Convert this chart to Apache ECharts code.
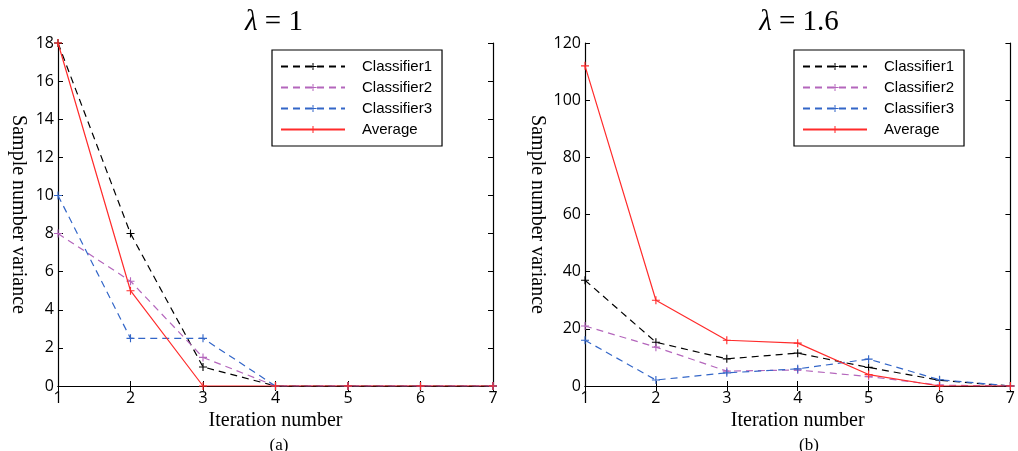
<!DOCTYPE html>
<html>
  <head>
    <meta http-equiv="Content-Type" content="text/html; charset=utf-8" />
    <script src="https://cdn.jsdelivr.net/npm/echarts@6/dist/echarts.min.js"></script>
    <style>html,body{margin:0;padding:0;background:#fff;}</style>
  </head>
  <body>
    <div id="main" style="width: 1018px;height:451px;"></div>
    <script type="text/javascript">
// iteration numbers on the x axis
var iterations = ['1', '2', '3', '4', '5', '6', '7'];
var names = ['Classifier1', 'Classifier2', 'Classifier3', 'Average'];

// (a) lambda = 1
var a_c1 = [18, 8, 1, 0, 0, 0, 0];
var a_c2 = [8, 5.5, 1.5, 0, 0, 0, 0];
var a_c3 = [10, 2.5, 2.5, 0, 0, 0, 0];
var a_avg = [18, 5, 0, 0, 0, 0, 0];

// (b) lambda = 1.6
var b_c1 = [37, 15.3, 9.5, 11.5, 6.5, 2, 0];
var b_c2 = [21, 13.6, 5.2, 5.6, 3.3, 0.3, 0];
var b_c3 = [16, 2.1, 4.6, 6, 9.4, 2.2, 0];
var b_avg = [112, 30, 16, 15, 4, 0, 0];

var colors = ['#000000', '#b466bc', '#3366c8', '#ff2b2b'];
var plus = 'path://M4.3,0H5.7V4.3H10V5.7H5.7V10H4.3V5.7H0V4.3H4.3Z';
var serif = "'Liberation Serif', 'DejaVu Serif', serif";
var sans = "'Open Sans', sans-serif";

var myChart = echarts.init(document.getElementById('main'));

function mkSeries(name, data, i, axis) {
    return {
        name: name,
        type: 'line',
        data: data,
        xAxisIndex: axis * 2,
        yAxisIndex: axis * 2,
        symbol: plus,
        symbolSize: 8,
        showSymbol: true,
        animation: false,
        itemStyle: {color: colors[i], borderWidth: 0},
        lineStyle: {color: colors[i], width: 1.2, type: i == 3 ? 'solid' : [7, 5]},
        z: i == 3 ? 5 : 3
    };
}

function xAxes(grid) {
    return [
        {
            type: 'category', gridIndex: grid, data: iterations, boundaryGap: false,
            axisLine: {lineStyle: {color: '#000', width: 1.2}},
            axisTick: {inside: true, length: 5, lineStyle: {color: '#000'}},
            axisLabel: {color: '#000', fontSize: 16, fontFamily: sans, margin: 4},
            splitLine: {show: false},
            name: 'Iteration number', nameLocation: 'middle', nameGap: 24,
            nameTextStyle: {fontFamily: serif, fontSize: 20, color: '#000'}
        },
        {
            type: 'category', gridIndex: grid, data: iterations, boundaryGap: false, position: 'top',
            axisLine: {lineStyle: {color: '#000', width: 1.2}},
            axisTick: {inside: true, length: 5, lineStyle: {color: '#000'}},
            axisLabel: {show: false},
            splitLine: {show: false}
        }
    ];
}

function yAxes(grid, max, step, gap) {
    return [
        {
            type: 'value', gridIndex: grid, min: 0, max: max, interval: step,
            axisLine: {show: true, lineStyle: {color: '#000', width: 1.2}},
            axisTick: {show: true, inside: true, length: 5, lineStyle: {color: '#000'}},
            axisLabel: {color: '#000', fontSize: 16, fontFamily: sans, margin: 4},
            splitLine: {show: false},
            name: 'Sample number variance', nameLocation: 'middle', nameGap: gap, nameRotate: -90,
            nameTextStyle: {fontFamily: serif, fontSize: 20, color: '#000'}
        },
        {
            type: 'value', gridIndex: grid, min: 0, max: max, interval: step, position: 'right',
            axisLine: {show: true, lineStyle: {color: '#000', width: 1.2}},
            axisTick: {show: true, inside: true, length: 5, lineStyle: {color: '#000'}},
            axisLabel: {show: false},
            splitLine: {show: false}
        }
    ];
}

function mkLegend(left) {
    return {
        orient: 'vertical',
        left: left, top: 50,
        data: names,
        itemWidth: 64, itemHeight: 9, itemGap: 6,
        padding: [9, 10, 9, 8],
        borderColor: '#000', borderWidth: 1.2,
        backgroundColor: '#fff',
        textStyle: {fontFamily: "'Liberation Sans', Arial", fontSize: 15, color: '#000', padding: [0, 0, 0, 12]},
        selectedMode: false
    };
}

option = {
    animation: false,
    title: [
        {text: '{i|λ} = 1', left: 269, top: 3, textAlign: 'center',
         textStyle: {fontFamily: serif, fontSize: 29, fontWeight: 'normal', color: '#000',
                     rich: {i: {fontFamily: serif, fontStyle: 'italic', fontSize: 29}}}},
        {text: '{i|λ} = 1.6', left: 794, top: 3, textAlign: 'center',
         textStyle: {fontFamily: serif, fontSize: 29, fontWeight: 'normal', color: '#000',
                     rich: {i: {fontFamily: serif, fontStyle: 'italic', fontSize: 29}}}},
        {text: '(a)', left: 274, top: 432, textAlign: 'center',
         textStyle: {fontFamily: serif, fontSize: 17, fontWeight: 'normal', color: '#000'}},
        {text: '(b)', left: 804, top: 432, textAlign: 'center',
         textStyle: {fontFamily: serif, fontSize: 17, fontWeight: 'normal', color: '#000'}}
    ],
    legend: [mkLegend(272), mkLegend(794)],
    grid: [
        {left: 58, top: 43, width: 435, height: 343},
        {left: 585, top: 43, width: 434, height: 343}
    ],
    xAxis: xAxes(0).concat(xAxes(1)),
    yAxis: yAxes(0, 18, 2, 30).concat(yAxes(1, 120, 20, 38)),
    series: [
        mkSeries('Classifier1', a_c1, 0, 0),
        mkSeries('Classifier2', a_c2, 1, 0),
        mkSeries('Classifier3', a_c3, 2, 0),
        mkSeries('Average', a_avg, 3, 0),
        mkSeries('Classifier1', b_c1, 0, 1),
        mkSeries('Classifier2', b_c2, 1, 1),
        mkSeries('Classifier3', b_c3, 2, 1),
        mkSeries('Average', b_avg, 3, 1)
    ]
};

myChart.setOption(option);
    </script>
  </body>
</html>
